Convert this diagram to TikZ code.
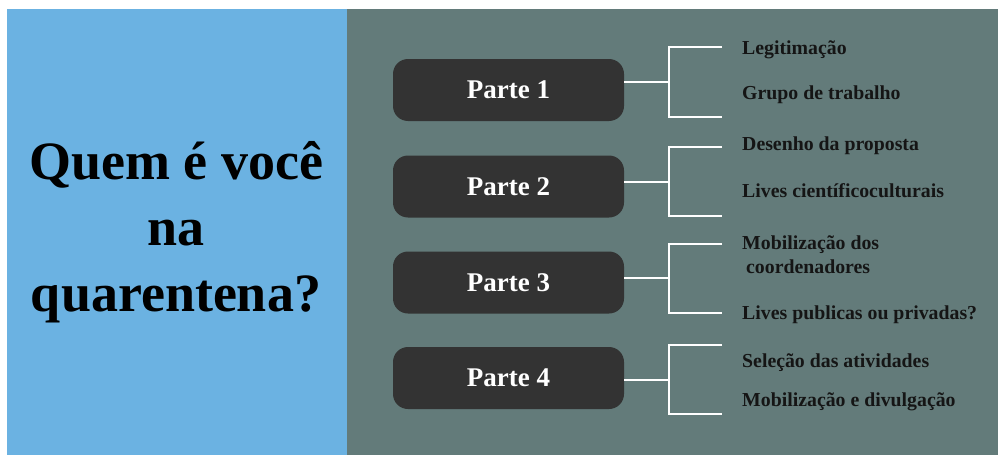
\documentclass[tikz,border=0pt]{standalone}
\usepackage{fontspec}
\setmainfont{Liberation Serif}
\usetikzlibrary{positioning,calc}
\definecolor{SkyPanel}{HTML}{6BB2E2}
\definecolor{SlatePanel}{HTML}{637B7A}
\definecolor{PartBox}{HTML}{333333}
\definecolor{ItemInk}{HTML}{151515}

\begin{document}
\begin{tikzpicture}[x=1pt,y=-1pt,
  partbox/.style={fill=PartBox, rounded corners=15pt, minimum width=231pt, minimum height=62pt,
    text=white, font=\fontsize{27}{30}\selectfont\bfseries},
  item/.style={anchor=base west, text=ItemInk, inner sep=0pt, align=left,
    font=\fontsize{19.8}{24}\selectfont\bfseries},
  brace/.style={draw=white, line width=2pt}]
\useasboundingbox (0,0) rectangle (999,455);
\fill[white] (0,0) rectangle (999,455);
% the two panels
\fill[SkyPanel] (7,9) rectangle (347,455);
\fill[SlatePanel] (347,9) rectangle (998,455);
\node[align=center, text=black, font=\fontsize{54}{66}\selectfont\bfseries] (title) at (176,232)
  {Quem é você\\na\\quarentena?};
% parts and their brackets
\foreach \i/\cy/\mid/\top/\bot in {1/90/82/47/117,2/186.5/182/147/216,3/282.5/278/244/313,4/378/380/345/414}{
  \node[partbox] (p\i) at (508.5,\cy) {Parte \i};
  \coordinate (k\i) at (669,\mid);
  \coordinate (t\i) at (722,\top);
  \coordinate (b\i) at (722,\bot);
  \draw[brace] (p\i.east |- k\i) -- (k\i);
  \draw[brace] (t\i) -| (k\i) |- (b\i);
}
% items
\node[item] (leg) at (742,54) {Legitimação};
\node[item] (grupo) at (742,99) {Grupo de trabalho};
\node[item] (desenho) at (742,150) {Desenho da proposta};
\node[item] (lives) at (742,197) {Lives científicoculturais};
\node[item] (mobcoord) at (742,273) {Mobilização dos\\\hspace*{4pt}coordenadores};
\node[item] (livespub) at (742,319) {Lives publicas ou privadas?};
\node[item] (selecao) at (742,367) {Seleção das atividades};
\node[item] (mobdiv) at (742,406) {Mobilização e divulgação};
\end{tikzpicture}
\end{document}
